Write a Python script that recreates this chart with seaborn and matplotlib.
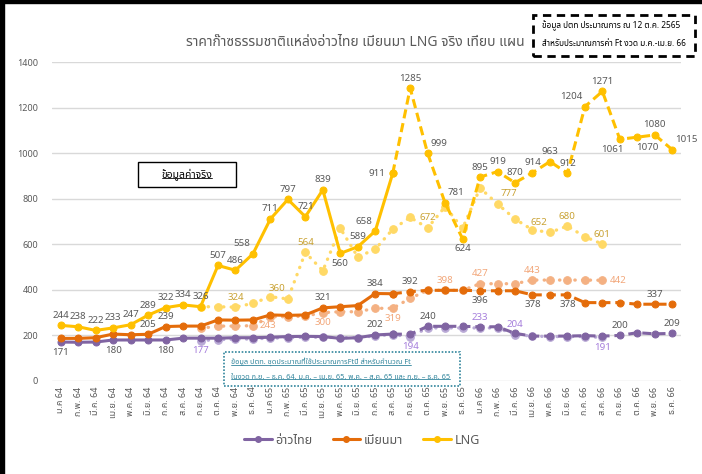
import matplotlib
matplotlib.use('Agg')
import matplotlib.pyplot as plt
import matplotlib.patches as mpatches
from matplotlib.lines import Line2D
from matplotlib import font_manager as fm
from matplotlib.ft2font import FT2Font
import seaborn as sns
import pandas as pd
import numpy as np

# month labels (Thai, Buddhist-era years)
months = ['ม.ค 64', 'ก.พ. 64', 'มี.ค. 64', 'เม.ย. 64', 'พ.ค. 64', 'มิ.ย. 64',
          'ก.ค. 64', 'ส.ค. 64', 'ก.ย. 64', 'ต.ค. 64', 'พ.ย. 64', 'ธ.ค. 64',
          'ม.ค 65', 'ก.พ. 65', 'มี.ค. 65', 'เม.ย. 65', 'พ.ค. 65', 'มิ.ย. 65',
          'ก.ค. 65', 'ส.ค. 65', 'ก.ย. 65', 'ต.ค. 65', 'พ.ย. 65', 'ธ.ค. 65',
          'ม.ค 66', 'ก.พ. 66', 'มี.ค. 66', 'เม.ย. 66', 'พ.ค. 66', 'มิ.ย. 66',
          'ก.ค. 66', 'ส.ค. 66', 'ก.ย. 66', 'ต.ค. 66', 'พ.ย. 66', 'ธ.ค. 66']

# actual values: ม.ค 64 - ส.ค. 65
gulf_actual = [171, 170, 171, 180, 180, 180, 180, 188, 188, 188, 190, 190,
               192, 195, 196, 195, 187, 190, 202, 206]
myan_actual = [187, 187, 190, 206, 203, 205, 239, 241, 241, 268, 267, 268,
               290, 288, 290, 321, 326, 331, 384, 383]
lng_actual = [244, 238, 222, 233, 247, 289, 322, 334, 326, 507, 486, 558,
              711, 797, 721, 839, 560, 589, 658, 911]

# PTT forecast (12 Oct 2565): ส.ค. 65 - ธ.ค. 66
gulf_fcst = [206, 205, 240, 240, 240, 238, 238, 209, 197, 197, 197, 199,
             197, 200, 212, 207, 209]
myan_fcst = [383, 392, 398, 398, 398, 396, 396, 396, 378, 378, 378, 344,
             344, 344, 337, 337, 337]
lng_fcst = [911, 1285, 999, 781, 624, 895, 919, 870, 914, 963, 912, 1204,
            1271, 1061, 1070, 1080, 1015]

# plan used for Ft: ก.ย. 64 - ส.ค. 66
gulf_plan = [177, 182, 183, 185, 188, 190, 192, 192, 190, 190, 198, 204,
             194, 233, 233, 233, 233, 233, 204, 197, 195, 195, 195, 191]
myan_plan = [231, 241, 241, 243, 282, 282, 285, 300, 304, 304, 319, 319,
             363, 398, 398, 398, 427, 427, 427, 443, 443, 443, 443, 442]
lng_plan = [326, 326, 324, 341, 370, 360, 564, 484, 670, 545, 578, 666,
            718, 672, 765, 670, 847, 777, 711, 663, 652, 680, 633, 601]

ACT0, FC0, PLAN0 = 0, 19, 8

# which points carry a value label, and where
gulf_actual_lab = {0: 'b', 3: 'b', 6: 'b', 18: 'a'}
myan_actual_lab = {5: 'a', 6: 'a', 15: 'a', 18: 'a'}
lng_actual_lab = {0: 'a', 1: 'a', 2: 'a', 3: 'a', 4: 'a', 5: 'a', 6: 'a', 7: 'a',
                  8: 'a', 9: 'a', 10: 'a', 11: 'al', 12: 'a', 13: 'a', 14: 'a',
                  15: 'a', 16: 'b', 17: 'a', 18: 'al', 19: 'l'}
gulf_fcst_lab = {21: 'a', 32: 'a', 35: 'a'}
myan_fcst_lab = {20: 'a', 24: 'b', 27: 'b', 29: 'b', 34: 'a'}
lng_fcst_lab = {20: 'a', 21: 'ar', 22: 'ar', 23: 'b', 24: 'a', 25: 'a', 26: 'a',
                27: 'a', 28: 'a', 29: 'a', 30: 'al', 31: 'a', 32: 'bl', 33: 'br',
                34: 'a', 35: 'ar'}
gulf_plan_lab = {8: 'b', 20: 'b', 24: 'a', 26: 'a', 31: 'b'}
myan_plan_lab = {11: 'r', 15: 'b', 19: 'b', 22: 'a', 24: 'a', 27: 'a', 31: 'r'}
lng_plan_lab = {10: 'a', 13: 'al', 14: 'a', 21: 'a', 25: 'ar', 28: 'al', 29: 'a', 31: 'a'}

sns.set_theme(style='white')


def thai_font():
    names = []
    for f in fm.fontManager.ttflist:
        try:
            if 0x0E01 in FT2Font(f.fname).get_charmap():
                names.append(f.name)
        except Exception:
            pass
    for pref in ['Noto Sans Thai', 'Noto Sans Thai UI', 'Loma', 'Garuda', 'Tlwg Typo']:
        if pref in names:
            return pref
    return names[0] if names else 'DejaVu Sans'


TH = thai_font()
plt.rcParams['font.family'] = [TH, 'DejaVu Sans']

GULF, MYAN, LNG = '#8064A2', '#E46C0A', '#FFC000'
GULF_P, MYAN_P, LNG_P = '#B9A9D6', '#F4B183', '#FFD966'
LAB = '#595959'
offs = {'a': (0, 4, 'center', 'bottom'), 'b': (0, -4, 'center', 'top'),
        'l': (-5, 0, 'right', 'center'), 'r': (5, 0, 'left', 'center'),
        'al': (-2, 4, 'right', 'bottom'), 'ar': (2, 4, 'left', 'bottom'),
        'bl': (3, -4, 'right', 'top'), 'br': (-1, -4, 'left', 'top')}


def series_df(vals, start):
    return pd.DataFrame({'m': np.arange(start, start + len(vals)), 'v': vals})


fig = plt.figure(figsize=(7.02, 4.74), dpi=100)
ax = fig.add_axes([52 / 702, 1 - 381 / 474, 629 / 702, 319 / 474])

dot = (0, (0.1, 2.2))
plans = [(gulf_plan, GULF_P), (myan_plan, MYAN_P), (lng_plan, LNG_P)]
for vals, c in plans:
    d = series_df(vals, PLAN0)
    sns.lineplot(data=d, x='m', y='v', ax=ax, color=c, lw=2.4, linestyle=dot,
                 dash_capstyle='round', marker='o', markersize=5.5,
                 markeredgecolor=c, zorder=2)

mains = [(gulf_actual, gulf_fcst, GULF), (myan_actual, myan_fcst, MYAN),
         (lng_actual, lng_fcst, LNG)]
for act, fc, c in mains:
    sns.lineplot(data=series_df(fc, FC0), x='m', y='v', ax=ax, color=c, lw=2.2,
                 linestyle=(0, (3, 1.6)), marker='o', markersize=5,
                 markeredgecolor=c, zorder=3)
    sns.lineplot(data=series_df(act, ACT0), x='m', y='v', ax=ax, color=c, lw=2.2,
                 marker='o', markersize=5, markeredgecolor=c, zorder=4)


def labels(vals, start, where, color):
    for i, pos in where.items():
        v = vals[i - start]
        dx, dy, ha, va = offs[pos]
        ax.annotate(str(v), (i, v), xytext=(dx, dy), textcoords='offset points',
                    ha=ha, va=va, fontsize=7, color=color, zorder=6)


labels(gulf_actual, ACT0, gulf_actual_lab, LAB)
labels(myan_actual, ACT0, myan_actual_lab, LAB)
labels(lng_actual, ACT0, lng_actual_lab, LAB)
labels(gulf_fcst, FC0, gulf_fcst_lab, LAB)
labels(myan_fcst, FC0, myan_fcst_lab, LAB)
labels(lng_fcst, FC0, lng_fcst_lab, LAB)
labels(gulf_plan, PLAN0, gulf_plan_lab, '#A67FDC')
labels(myan_plan, PLAN0, myan_plan_lab, '#F2A77A')
labels(lng_plan, PLAN0, lng_plan_lab, '#C9A233')

ax.set_xlim(-0.5, len(months) - 0.5)
ax.set_ylim(0, 1400)
ax.set_yticks(range(0, 1401, 200))
ax.set_xticks(range(len(months)))
ax.set_xticklabels(months, rotation=90, fontsize=6.5, color=LAB)
ax.tick_params(axis='y', labelsize=6.5, labelcolor=LAB, length=0, pad=10)
ax.tick_params(axis='x', length=0, pad=4)
ax.grid(axis='y', color='#D9D9D9', lw=1)
ax.set_xlabel('')
ax.set_ylabel('')
for s in ax.spines.values():
    s.set_visible(False)

fig.text(355 / 702, 1 - 42 / 474, 'ราคาก๊าซธรรมชาติแหล่งอ่าวไทย เมียนมา LNG จริง เทียบ แผน',
         ha='center', va='center', fontsize=10, color='#595959')

handles = [Line2D([], [], color=c, lw=2.2, marker='o', markersize=4)
           for c in (GULF, MYAN, LNG)]
fig.legend(handles, ['อ่าวไทย', 'เมียนมา', 'LNG'], loc='center', ncol=3,
           bbox_to_anchor=(362 / 702, 1 - 440 / 474), frameon=False, fontsize=9,
           handlelength=2.2, columnspacing=1.6, handletextpad=0.3, labelcolor=LAB)


def px(x, y):
    return x / 702, 1 - y / 474


def box(x0, y0, x1, y1, **kw):
    fig.patches.append(mpatches.Rectangle(px(x0, y1), (x1 - x0) / 702, (y1 - y0) / 474,
                                          transform=fig.transFigure, fill=True,
                                          facecolor='white', zorder=5, **kw))


box(138, 162, 236, 187, edgecolor='black', lw=1)
box(533, 15, 695, 56, edgecolor='black', lw=2, linestyle=(0, (3, 2)))
box(224, 352, 460, 386, edgecolor='#31859C', lw=1.2, linestyle=(0, (1, 1)))

under = []
under.append(fig.text(*px(187, 174), 'ข้อมูลค่าจริง', ha='center', va='center',
                      fontsize=7.5, color='black', zorder=7))
fig.text(*px(542, 26), 'ข้อมูล ปตท ประมาณการ ณ 12 ต.ค. 2565', ha='left',
         va='center', fontsize=6, color='black', zorder=7)
fig.text(*px(542, 44), 'สำหรับประมาณการค่า Ft งวด ม.ค.-เม.ย. 66', ha='left',
         va='center', fontsize=6, color='black', zorder=7)
under.append(fig.text(*px(231, 362), 'ข้อมูล ปตท. ชุดประมาณที่ใช้ประมาณการFtปี สำหรับคำนวณ Ft',
                      ha='left', va='center', fontsize=5.3, color='#31859C', zorder=7))
under.append(fig.text(*px(231, 377), 'ในงวด ก.ย. – ธ.ค. 64, ม.ค. – เม.ย. 65, พ.ค. – ส.ค. 65 และ ก.ย. – ธ.ค. 65',
                      ha='left', va='center', fontsize=5.3, color='#31859C', zorder=7))

# frame edges of the original screenshot
fig.patches.append(mpatches.Rectangle((0, 0), 4 / 702, 1, transform=fig.transFigure,
                                      color='black', zorder=10))
fig.patches.append(mpatches.Rectangle((0, 1 - 3 / 474), 1, 3 / 474,
                                      transform=fig.transFigure, color='black', zorder=10))

fig.canvas.draw()
inv = fig.transFigure.inverted()
for t in under:
    bb = t.get_window_extent()
    (xa, ya), (xb, yb) = inv.transform([(bb.x0, bb.y0 + 1.5), (bb.x1, bb.y0 + 1.5)])
    fig.lines.append(Line2D([xa, xb], [ya, yb], transform=fig.transFigure,
                            color=t.get_color(), lw=0.6, zorder=8))

fig.savefig('out.png', dpi=100)
